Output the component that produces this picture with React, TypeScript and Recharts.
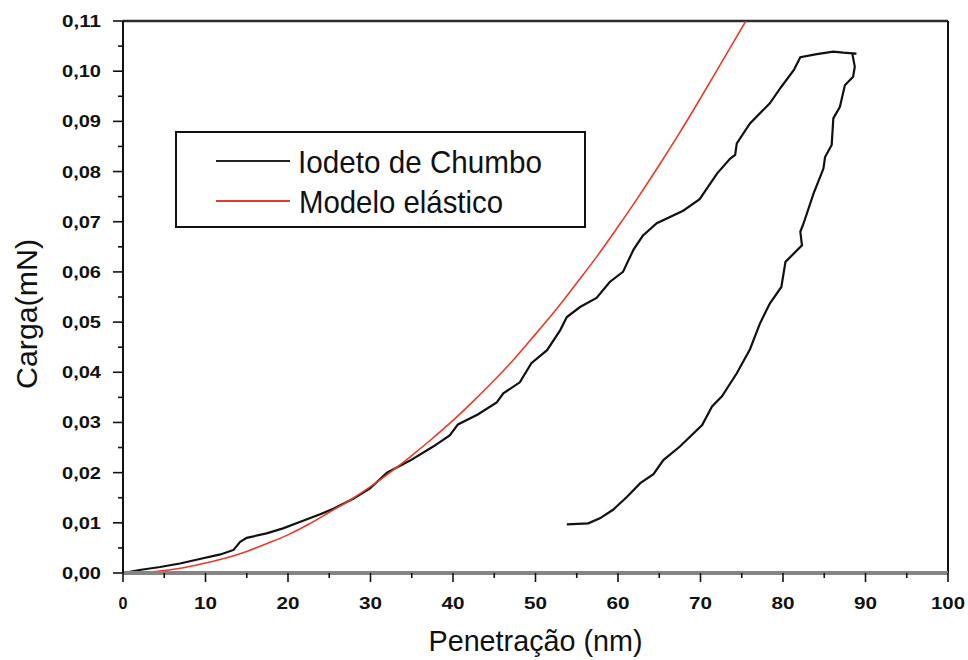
import { Label, Line, LineChart, ReferenceLine, XAxis, YAxis } from "recharts";

// Penetration (nm) / load (mN) readings for the lead iodide indentation:
// loading branch up to the peak, then the unloading branch back down.
const iodetoX = [
  0, 2.0, 4.5, 6.9, 9.3, 11.8, 13.4, 14.2, 15.0, 17.4, 19.4, 21.5, 23.9, 25.5, 27.9, 29.9,
  32.0, 34.8, 37.6, 39.6, 40.6, 43.0, 45.3, 46.1, 48.1, 49.5, 51.4, 53.0, 53.8, 55.4, 57.4,
  59.0, 60.6, 61.9, 63.0, 64.7, 67.9, 69.9, 72.0, 73.6, 74.2, 74.4, 76.0, 78.4, 79.8, 81.3,
  82.1, 84.1, 86.1, 87.3, 88.9,
  88.4, 88.7, 88.5, 87.5, 86.9, 86.1, 85.9, 85.1, 84.9, 83.7, 82.5, 82.1, 82.3, 80.3, 79.8,
  78.4, 77.2, 76.0, 74.4, 72.6, 71.4, 70.2, 67.5, 65.5, 64.3, 62.7, 61.1, 59.4, 57.8, 56.4,
  53.8
];
const iodetoY = [
  0, 0.0006, 0.0012, 0.0019, 0.0028, 0.0037, 0.0046, 0.0062, 0.007, 0.0079, 0.0089, 0.0102,
  0.0117, 0.0128, 0.0148, 0.0168, 0.02, 0.0224, 0.0252, 0.0274, 0.0296, 0.0316, 0.034, 0.0358,
  0.038, 0.0418, 0.0444, 0.0484, 0.051, 0.053, 0.0548, 0.058, 0.06, 0.0645, 0.0672, 0.0697,
  0.0722, 0.0745, 0.0796, 0.0826, 0.0833, 0.0856, 0.0896, 0.0936, 0.0969, 0.1002, 0.1028,
  0.1034, 0.1039, 0.1037, 0.1035,
  0.1035, 0.1009, 0.0989, 0.0972, 0.0929, 0.0906, 0.0853, 0.0829, 0.0806, 0.0756, 0.0697,
  0.068, 0.0653, 0.062, 0.057, 0.0537, 0.0497, 0.0446, 0.0398, 0.0352, 0.0332, 0.0295,
  0.0252, 0.0225, 0.0197, 0.0179, 0.0152, 0.0126, 0.0109, 0.0099, 0.0097
];

// Elastic model curve
const elasticX = [
  0, 2.5, 5, 7.5, 10, 12.5, 15, 17.5, 20, 22.5, 25, 27.5, 30, 32.5, 35, 37.5, 40, 42.5, 45,
  47.5, 50, 52.5, 55, 57.5, 60, 62.5, 65, 67.5, 70, 72.5, 75.5
];
const elasticY = [
  0, 0.0001, 0.0005, 0.0011, 0.002, 0.003, 0.0043, 0.0059, 0.0076, 0.0097, 0.0121, 0.0145,
  0.0172, 0.0202, 0.0234, 0.0268, 0.0304, 0.0343, 0.0384, 0.0428, 0.0476, 0.0525, 0.0578,
  0.0632, 0.069, 0.075, 0.0813, 0.0878, 0.0946, 0.1016, 0.11
];

const xTicks = [0, 5, 10, 15, 20, 25, 30, 35, 40, 45, 50, 55, 60, 65, 70, 75, 80, 85, 90, 95, 100];
const yTicks = [
  0, 0.005, 0.01, 0.015, 0.02, 0.025, 0.03, 0.035, 0.04, 0.045, 0.05, 0.055, 0.06, 0.065,
  0.07, 0.075, 0.08, 0.085, 0.09, 0.095, 0.1, 0.105, 0.11
];

const iodetoData = iodetoX.map((x, i) => ({ x, y: iodetoY[i] }));
const elasticData = elasticX.map((x, i) => ({ x, y: elasticY[i] }));

const FONT = "'Liberation Sans', Arial, sans-serif";
const RED = "#e63b2a";

function XTick({ x, y, payload }: any) {
  const v = payload.value as number;
  const major = v % 10 === 0;
  const label = String(v);
  return (
    <g>
      <line x1={x} x2={x} y1={y} y2={y + (major ? 9 : 5)} stroke="#111" strokeWidth={1.6} />
      {major && (
        <text
          x={x}
          y={y + 36}
          textAnchor="middle"
          fontFamily={FONT}
          fontWeight="bold"
          fontSize={17}
          textLength={label.length === 1 ? 9 : label.length * 11 + 1}
          lengthAdjust="spacingAndGlyphs"
          fill="#111"
        >
          {label}
        </text>
      )}
    </g>
  );
}

function YTick({ x, y, payload }: any) {
  const v = payload.value as number;
  const major = Math.round(v * 1000) % 10 === 0;
  return (
    <g>
      <line x1={x - (major ? 10 : 5)} x2={x} y1={y} y2={y} stroke="#111" strokeWidth={1.6} />
      {major && (
        <text
          x={x - 61}
          y={y + 6}
          fontFamily={FONT}
          fontWeight="bold"
          fontSize={16.5}
          textLength={39}
          lengthAdjust="spacingAndGlyphs"
          fill="#111"
        >
          {v.toFixed(2).replace(".", ",")}
        </text>
      )}
    </g>
  );
}

function XTitle({ viewBox }: any) {
  const cx = viewBox.x + viewBox.width / 2;
  return (
    <text
      x={cx}
      y={651}
      textAnchor="middle"
      fontFamily={FONT}
      fontSize={30}
      textLength={214}
      lengthAdjust="spacingAndGlyphs"
      fill="#111"
    >
      Penetração (nm)
    </text>
  );
}

function YTitle() {
  return (
    <text
      x={37}
      y={314}
      transform="rotate(-90, 37, 314)"
      textAnchor="middle"
      fontFamily={FONT}
      fontSize={29}
      textLength={150}
      lengthAdjust="spacingAndGlyphs"
      fill="#111"
    >
      Carga(mN)
    </text>
  );
}

function LegendBox() {
  return (
    <svg
      width={411}
      height={97}
      style={{ position: "absolute", left: 175, top: 131 }}
    >
      <rect x={1} y={1} width={409} height={95} fill="#fff" stroke="#111" strokeWidth={2} />
      <line x1={41} x2={115} y1={30} y2={30} stroke="#222" strokeWidth={2} />
      <line x1={41} x2={115} y1={70} y2={70} stroke={RED} strokeWidth={2} />
      <text
        x={123}
        y={42}
        fontFamily={FONT}
        fontSize={32}
        textLength={244}
        lengthAdjust="spacingAndGlyphs"
        fill="#111"
      >
        Iodeto de Chumbo
      </text>
      <text
        x={124}
        y={82}
        fontFamily={FONT}
        fontSize={32}
        textLength={204}
        lengthAdjust="spacingAndGlyphs"
        fill="#111"
      >
        Modelo elástico
      </text>
    </svg>
  );
}

export default function App() {
  return (
    <div style={{ position: "absolute", left: 0, top: 0, width: 968, height: 660, background: "#fff" }}>
      <LineChart width={968} height={660} margin={{ top: 21, right: 20, bottom: 0, left: 0 }}>
        <XAxis
          type="number"
          dataKey="x"
          domain={[0, 100]}
          ticks={xTicks}
          interval={0}
          height={87}
          tickSize={0}
          tickMargin={0}
          tickLine={false}
          axisLine={{ stroke: "#858585", strokeWidth: 4 }}
          tick={<XTick />}
          allowDataOverflow
        >
          <Label content={<XTitle />} />
        </XAxis>
        <YAxis
          type="number"
          dataKey="y"
          domain={[0, 0.11]}
          ticks={yTicks}
          interval={0}
          width={123}
          tickSize={0}
          tickMargin={0}
          tickLine={false}
          axisLine={{ stroke: "#111", strokeWidth: 2 }}
          tick={<YTick />}
          allowDataOverflow
        >
          <Label content={<YTitle />} />
        </YAxis>
        <ReferenceLine y={0.11} stroke="#2b2b2b" strokeWidth={2.6} />
        <ReferenceLine x={100} stroke="#111" strokeWidth={2} />
        <Line
          data={iodetoData}
          dataKey="y"
          type="linear"
          stroke="#111"
          strokeWidth={2.2}
          dot={false}
          isAnimationActive={false}
        />
        <Line
          data={elasticData}
          dataKey="y"
          type="monotone"
          stroke={RED}
          strokeWidth={1.6}
          dot={false}
          isAnimationActive={false}
        />
      </LineChart>
      <LegendBox />
    </div>
  );
}
